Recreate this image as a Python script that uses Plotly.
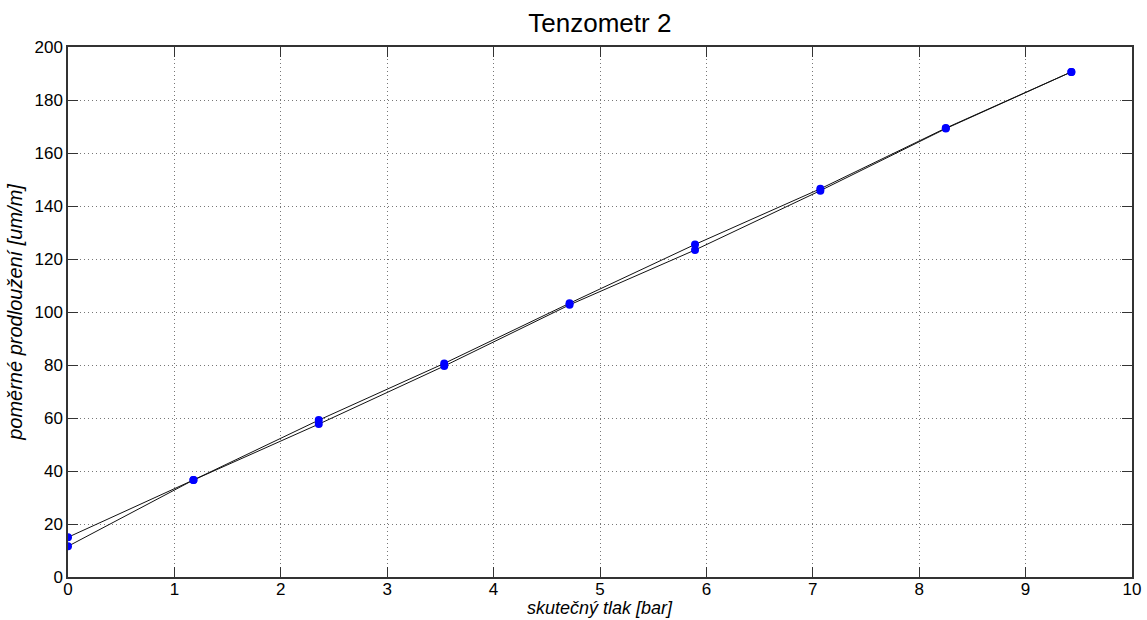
import plotly.graph_objects as go

# loading (increasing pressure)
x_load = [0.0, 1.179, 2.357, 3.536, 4.714, 5.893, 7.071, 8.25, 9.43]
y_load = [11.6, 36.6, 57.7, 79.6, 102.7, 123.4, 145.8, 169.2, 190.6]
# unloading (decreasing pressure)
x_unload = [9.43, 8.25, 7.071, 5.893, 4.714, 3.536, 2.357, 1.179, 0.0]
y_unload = [190.6, 169.4, 146.5, 125.5, 103.3, 80.6, 59.2, 36.6, 15.0]

x_ticks = list(range(0, 11))
y_ticks = list(range(0, 201, 20))

title_text = "Tenzometr 2"
x_title = "skutečný tlak [bar]"
y_title = "poměrné prodloužení [um/m]"

font_family = "Liberation Sans, Arial, sans-serif"

fig = go.Figure()
for xs, ys in [(x_load, y_load), (x_unload, y_unload)]:
    fig.add_trace(go.Scatter(
        x=xs, y=ys, mode="lines+markers",
        line=dict(color="#111111", width=1),
        marker=dict(color="#0000ff", size=8, line=dict(width=0)),
        showlegend=False,
    ))

axis_common = dict(
    showline=True, linecolor="#333333", linewidth=1.5, mirror="allticks",
    ticks="inside", ticklen=10, tickwidth=1.2, tickcolor="#333333",
    showgrid=True, gridcolor="#777777", griddash="1px,3px", gridwidth=1,
    zeroline=False, automargin=False,
    tickfont=dict(family=font_family, size=17, color="#000000"),
)

fig.update_layout(
    width=1147, height=620,
    margin=dict(l=68, r=15, t=47, b=43, autoexpand=False),
    paper_bgcolor="white", plot_bgcolor="white",
    title=dict(text=title_text, x=0.523, xanchor="center", y=0.963, yanchor="middle",
               font=dict(family=font_family, size=26, color="#000000")),
    xaxis=dict(range=[0, 10], tickvals=x_ticks, ticktext=[str(v) for v in x_ticks],
               ticklabelstandoff=-4,
               **axis_common),
    yaxis=dict(range=[0, 200], tickvals=y_ticks, ticktext=[str(v) for v in y_ticks],
               title=dict(text=f"<i>{y_title}</i>", standoff=6,
                          font=dict(family=font_family, size=20, color="#000000")),
               **axis_common),
    annotations=[dict(
        text=f"<i>{x_title}</i>", xref="paper", yref="paper",
        x=0.5, y=-0.0792, xanchor="center", yanchor="bottom", showarrow=False,
        borderpad=0,
        font=dict(family=font_family, size=18, color="#000000"),
    )],
)

fig.write_html("out.html")
